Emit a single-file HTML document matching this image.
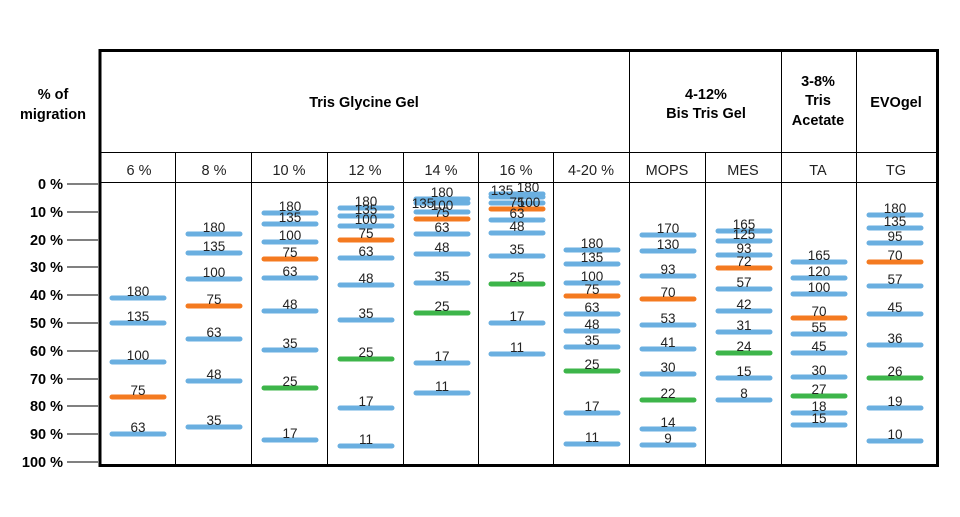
<!DOCTYPE html>
<html><head><style>
html,body{margin:0;padding:0;background:#fff;}
svg text{font-family:"Liberation Sans",Arial,sans-serif;}
</style></head><body>
<svg width="960" height="512" xmlns="http://www.w3.org/2000/svg">
<rect width="960" height="512" fill="#fff"/>
<g stroke="#000" stroke-width="1">
<line x1="175.5" y1="152" x2="175.5" y2="466"/>
<line x1="251.5" y1="152" x2="251.5" y2="466"/>
<line x1="327.5" y1="152" x2="327.5" y2="466"/>
<line x1="403.5" y1="152" x2="403.5" y2="466"/>
<line x1="478.5" y1="152" x2="478.5" y2="466"/>
<line x1="553.5" y1="152" x2="553.5" y2="466"/>
<line x1="705.5" y1="152" x2="705.5" y2="466"/>
<line x1="629.5" y1="50" x2="629.5" y2="466"/>
<line x1="781.5" y1="50" x2="781.5" y2="466"/>
<line x1="856.5" y1="50" x2="856.5" y2="466"/>
<line x1="100" y1="152.5" x2="938" y2="152.5"/>
<line x1="100" y1="182.5" x2="938" y2="182.5"/>
</g>
<rect x="100" y="50.5" width="837.5" height="415" fill="none" stroke="#000" stroke-width="3"/>
<g stroke="#000" stroke-width="1">
<line x1="67" y1="184" x2="98" y2="184"/><line x1="67" y1="212" x2="98" y2="212"/><line x1="67" y1="240" x2="98" y2="240"/><line x1="67" y1="267" x2="98" y2="267"/><line x1="67" y1="295" x2="98" y2="295"/><line x1="67" y1="323" x2="98" y2="323"/><line x1="67" y1="351" x2="98" y2="351"/><line x1="67" y1="379" x2="98" y2="379"/><line x1="67" y1="406" x2="98" y2="406"/><line x1="67" y1="434" x2="98" y2="434"/><line x1="67" y1="462" x2="98" y2="462"/>
</g>
<g font-size="14.5" font-weight="bold" text-anchor="end" fill="#000">
<text x="63" y="189">0 %</text><text x="63" y="217">10 %</text><text x="63" y="245">20 %</text><text x="63" y="272">30 %</text><text x="63" y="300">40 %</text><text x="63" y="328">50 %</text><text x="63" y="356">60 %</text><text x="63" y="384">70 %</text><text x="63" y="411">80 %</text><text x="63" y="439">90 %</text><text x="63" y="467">100 %</text>
</g>
<g font-size="14.5" font-weight="bold" text-anchor="middle" fill="#000">
<text x="53" y="99">% of</text><text x="53" y="119">migration</text>
<text x="364" y="107">Tris Glycine Gel</text>
<text x="706" y="99">4-12%</text><text x="706" y="118">Bis Tris Gel</text>
<text x="818" y="86">3-8%</text><text x="818" y="105">Tris</text><text x="818" y="125">Acetate</text>
<text x="896" y="107">EVOgel</text>
</g>
<g font-size="14.5" text-anchor="middle" fill="#222">
<text x="139" y="175">6 %</text><text x="214" y="175">8 %</text><text x="289" y="175">10 %</text><text x="365" y="175">12 %</text><text x="441" y="175">14 %</text><text x="516" y="175">16 %</text><text x="591" y="175">4-20 %</text><text x="667" y="175">MOPS</text><text x="743" y="175">MES</text><text x="818" y="175">TA</text><text x="896" y="175">TG</text>
</g>
<g id="bands" stroke-width="5" stroke-linecap="round"></g>
<g id="labels" font-size="13.5" text-anchor="middle" fill="#222"></g>
</svg>
<script>
var B="#6aafe0",O="#f47a20",G="#3db54a";
var cols=[
[100,[[180,298,B],[135,323,B],[100,362,B],[75,397,O],[63,434,B]]],
[176,[[180,234,B],[135,253,B],[100,279,B],[75,306,O],[63,339,B],[48,381,B],[35,427,B]]],
[252,[[180,213,B],[135,224,B],[100,242,B],[75,259,O],[63,278,B],[48,311,B],[35,350,B],[25,388,G],[17,440,B]]],
[328,[[180,208,B],[135,216,B],[100,226,B],[75,240,O],[63,258,B],[48,285,B],[35,320,B],[25,359,G],[17,408,B],[11,446,B]]],
[404,[[180,199,B],["",203,B],[100,212,B],[75,219,O],[63,234,B],[48,254,B],[35,283,B],[25,313,G],[17,363,B],[11,393,B]]],
[479,[["",194,B],["",197,B],["",203,B],[75,209,O],[63,220,B],[48,233,B],[35,256,B],[25,284,G],[17,323,B],[11,354,B]]],
[554,[[180,250,B],[135,264,B],[100,283,B],[75,296,O],[63,314,B],[48,331,B],[35,347,B],[25,371,G],[17,413,B],[11,444,B]]],
[630,[[170,235,B],[130,251,B],[93,276,B],[70,299,O],[53,325,B],[41,349,B],[30,374,B],[22,400,G],[14,429,B],[9,445,B]]],
[706,[[165,231,B],[125,241,B],[93,255,B],[72,268,O],[57,289,B],[42,311,B],[31,332,B],[24,353,G],[15,378,B],[8,400,B]]],
[781,[[165,262,B],[120,278,B],[100,294,B],[70,318,O],[55,334,B],[45,353,B],[30,377,B],[27,396,G],[18,413,B],[15,425,B]]],
[857,[[180,215,B],[135,228,B],[95,243,B],[70,262,O],[57,286,B],[45,314,B],[36,345,B],[26,378,G],[19,408,B],[10,441,B]]]
];
var ns="http://www.w3.org/2000/svg",bg=document.getElementById("bands"),lg=document.getElementById("labels");
cols.forEach(function(c){var x0=c[0];c[1].forEach(function(b){
var l=document.createElementNS(ns,"line");l.setAttribute("x1",x0+12);l.setAttribute("x2",x0+64);l.setAttribute("y1",b[1]);l.setAttribute("y2",b[1]);l.setAttribute("stroke",b[2]);bg.appendChild(l);
if(b[0]!==""){var t=document.createElementNS(ns,"text");t.setAttribute("x",x0+38);t.setAttribute("y",b[1]-2);t.textContent=b[0];lg.appendChild(t);}
});});
function T(x,y,s){var t=document.createElementNS(ns,"text");t.setAttribute("x",x);t.setAttribute("y",y);t.textContent=s;lg.appendChild(t);}
T(423,208,"135");T(502,195,"135");T(528,192,"180");T(529,207,"100");
</script>
</body></html>
